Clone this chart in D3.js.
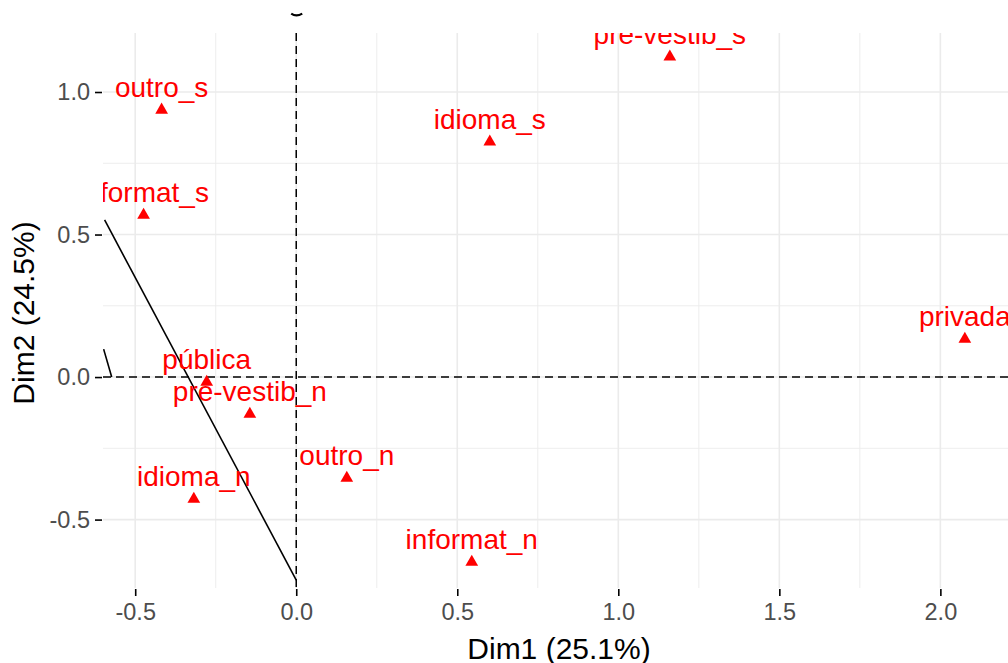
<!DOCTYPE html>
<html>
<head>
<meta charset="utf-8">
<script src="https://cdn.jsdelivr.net/npm/d3@7"></script>
<style>
  body { margin: 0; background: #fff; }
  text { font-family: "Liberation Sans", Arial, sans-serif; }
</style>
</head>
<body>
<div class="canvas"></div>
<script>
// category labels and their coordinates on the two dimensions
const categories = ["outro_s", "informat_s", "pré-vestib_s", "idioma_s", "privada",
  "pública", "pré-vestib_n", "outro_n", "idioma_n", "informat_n"];
const dim1 = [-0.418, -0.474, 1.160, 0.601, 2.076, -0.278, -0.144, 0.157, -0.318, 0.545];
const dim2 = [0.937, 0.568, 1.123, 0.825, 0.133, -0.018, -0.130, -0.354, -0.428, -0.649];

const xTicks = [-0.5, 0, 0.5, 1, 1.5, 2];
const yTicks = [-0.5, 0, 0.5, 1];
const xMinor = [-0.25, 0.25, 0.75, 1.25, 1.75];
const yMinor = [-0.25, 0.25, 0.75];

// black line fragments (partly outside the visible area)
const segX = [[-0.595, 0], [-0.598, -0.573]];
const segY = [[0.551, -0.712], [0.098, 0.0]];

const data = categories.map((c, i) => ({ name: c, x: dim1[i], y: dim2[i] }));

const svg = d3.select(".canvas").append("svg")
  .attr("width", 1008)
  .attr("height", 663);

const x = d3.scaleLinear().domain([-0.6, 2.21]).range([103, 1008]);
const y = d3.scaleLinear().domain([-0.74, 1.207]).range([588, 33]);

svg.append("clipPath").attr("id", "panel")
  .append("rect")
  .attr("x", 103).attr("y", 33)
  .attr("width", 905).attr("height", 555);

const grid = svg.append("g");
grid.selectAll(".vminor").data(xMinor).enter().append("line")
  .attr("x1", d => x(d)).attr("x2", d => x(d))
  .attr("y1", 33).attr("y2", 588)
  .attr("stroke", "#ebebeb").attr("stroke-width", 0.9);
grid.selectAll(".hminor").data(yMinor).enter().append("line")
  .attr("y1", d => y(d)).attr("y2", d => y(d))
  .attr("x1", 103).attr("x2", 1008)
  .attr("stroke", "#ebebeb").attr("stroke-width", 0.9);
grid.selectAll(".vmajor").data(xTicks).enter().append("line")
  .attr("x1", d => x(d)).attr("x2", d => x(d))
  .attr("y1", 33).attr("y2", 588)
  .attr("stroke", "#ebebeb").attr("stroke-width", 1.6);
grid.selectAll(".hmajor").data(yTicks).enter().append("line")
  .attr("y1", d => y(d)).attr("y2", d => y(d))
  .attr("x1", 103).attr("x2", 1008)
  .attr("stroke", "#ebebeb").attr("stroke-width", 1.6);

// axes, with a plain hyphen for negatives
const fmt = d => d3.format(".1f")(d).replace("−", "-");
const xAxis = d3.axisBottom(x).tickValues(xTicks).tickSize(7).tickPadding(5).tickFormat(fmt);
const yAxis = d3.axisLeft(y).tickValues(yTicks).tickSize(7).tickPadding(5).tickFormat(fmt);

const xAxisGroup = svg.append("g").attr("transform", "translate(0,589)").call(xAxis);
const yAxisGroup = svg.append("g").attr("transform", "translate(102,0)").call(yAxis);
[xAxisGroup, yAxisGroup].forEach(g => {
  g.select(".domain").remove();
  g.selectAll("line").attr("stroke", "#000").attr("stroke-width", 1.6);
  g.selectAll("text").attr("fill", "#4d4d4d").attr("font-size", 23.5)
    .attr("font-family", "Liberation Sans, Arial, sans-serif");
});
xAxisGroup.selectAll("text").attr("dy", "0.8em");

const plot = svg.append("g").attr("clip-path", "url(#panel)");

// reference lines
plot.append("line")
  .attr("x1", x(0)).attr("x2", x(0)).attr("y1", 33).attr("y2", 588)
  .attr("stroke", "#000").attr("stroke-width", 1.5).attr("stroke-dasharray", "8,5");
plot.append("line")
  .attr("y1", y(0)).attr("y2", y(0)).attr("x1", 103).attr("x2", 1008)
  .attr("stroke", "#000").attr("stroke-width", 1.5).attr("stroke-dasharray", "8,5");

plot.selectAll(".seg").data(segX).enter().append("line")
  .attr("x1", d => x(d[0])).attr("x2", d => x(d[1]))
  .attr("y1", (d, i) => y(segY[i][0])).attr("y2", (d, i) => y(segY[i][1]))
  .attr("stroke", "#000").attr("stroke-width", 1.6);

// small mark above the panel
svg.append("path")
  .attr("d", `M${x(0) - 5},${y(1.275)} Q${x(0)},${y(1.262)} ${x(0) + 6},${y(1.275)}`)
  .attr("fill", "none").attr("stroke", "#000").attr("stroke-width", 2.2);

plot.selectAll(".pt").data(data).enter().append("path")
  .attr("d", d3.symbol().type(d3.symbolTriangle).size(70))
  .attr("transform", d => `translate(${x(d.x)},${y(d.y)})`)
  .attr("fill", "#ff0000");

plot.selectAll(".lab").data(data).enter().append("text")
  .text(d => d.name)
  .attr("x", d => x(d.x))
  .attr("y", d => y(d.y) - 13)
  .attr("text-anchor", "middle")
  .attr("font-size", 28)
  .attr("fill", "#ff0000");

svg.append("text")
  .text("Dim1 (25.1%)")
  .attr("x", 559).attr("y", 659)
  .attr("text-anchor", "middle")
  .attr("font-size", 30);

svg.append("text")
  .text("Dim2 (24.5%)")
  .attr("transform", "translate(34,313) rotate(-90)")
  .attr("text-anchor", "middle")
  .attr("font-size", 30);
</script>
</body>
</html>
